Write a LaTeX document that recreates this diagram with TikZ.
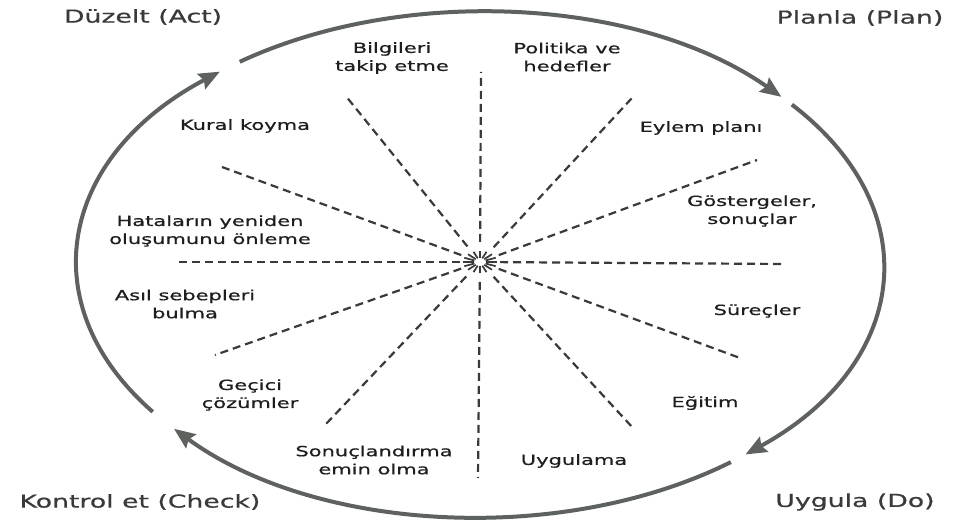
\documentclass[tikz,border=0pt]{standalone}
\usepackage{fontspec}
\setmainfont{DejaVu Sans}[FakeStretch=1.5,FakeBold=0.6]
\usetikzlibrary{arrows.meta,calc}
\definecolor{arcgray}{HTML}{5E625F}
\definecolor{dashgray}{HTML}{3A3A3A}
\definecolor{txt}{HTML}{1E1E1E}
\definecolor{otxt}{HTML}{3A3A3A}
\begin{document}
\begin{tikzpicture}[x=1pt,y=1pt,
  cyc/.style={line width=4pt,arcgray,-{Stealth[length=21pt,width=17pt,inset=3pt]}},
  spoke/.style={line width=2.2pt,dashgray,dash pattern=on 8pt off 5pt,shorten <=20pt},
  tick/.style={line width=1.7pt,dashgray},
  outer/.style={text=otxt,font=\fontsize{17.8}{20}\selectfont,inner sep=0pt},
  inner/.style={text=txt,font=\fontsize{14}{18}\selectfont,align=center,inner sep=0pt}]
\useasboundingbox (0,0) rectangle (955,524);
\fill[white] (0,0) rectangle (955,524);
% ellipse centre
\coordinate (e) at (480,259.5);
% cycle arcs
\draw[cyc] (e) ++(126.6:403pt and 252.5pt) arc[start angle=126.6,end angle=41.6,x radius=403pt,y radius=252.5pt];
\draw[cyc] (e) ++(39.3:403pt and 252.5pt) arc[start angle=39.3,end angle=-48.8,x radius=403pt,y radius=252.5pt];
\draw[cyc] (e) ++(-51.5:403pt and 252.5pt) arc[start angle=-51.5,end angle=-139.4,x radius=403pt,y radius=252.5pt];
\draw[cyc] (e) ++(-144.3:403pt and 252.5pt) arc[start angle=-144.3,end angle=-229.8,x radius=403pt,y radius=252.5pt];
% spokes
\coordinate (c) at (480,262);
\coordinate (s1) at (481,452);
\coordinate (s2) at (632,426);
\coordinate (s3) at (757,364);
\coordinate (s4) at (783,260);
\coordinate (s5) at (740,166);
\coordinate (s6) at (633,96);
\coordinate (s7) at (478,46);
\coordinate (s8) at (325,99);
\coordinate (s9) at (215,169);
\coordinate (s10) at (178,262);
\coordinate (s11) at (222,357);
\coordinate (s12) at (345,429);
\foreach \s in {s1,s2,s3,s4,s5,s6,s7,s8,s9,s10,s11,s12}
  \draw[spoke] (c) -- (\s);
% centre burst
\foreach \a in {0,22.5,...,337.5}
  \draw[tick] ($(c)+(\a:6pt and 4pt)$) -- ($(c)+(\a:17pt and 11pt)$);
% stage labels
\node[outer] (act) at (143,507) {Düzelt (Act)};
\node[outer] (plan) at (860,506) {Planla (Plan)};
\node[outer] (check) at (140,22) {Kontrol et (Check)};
\node[outer] (do) at (855,22) {Uygula (Do)};
% inner labels
\node[inner] (l1) at (392,466) {Bilgileri\\takip etme};
\node[inner] (l2) at (567,467) {Politika ve\\hedefler};
\node[inner] (l3) at (701,396) {Eylem planı};
\node[inner] (l4) at (752,313) {Göstergeler,\\sonuçlar};
\node[inner] (l5) at (757,213) {Süreçler};
\node[inner] (l6) at (705,121) {Eğitim};
\node[inner] (l7) at (574,63) {Uygulama};
\node[inner] (l8) at (374,64) {Sonuçlandırma\\emin olma};
\node[inner] (l9) at (250,129) {Geçici\\çözümler};
\node[inner] (l10) at (185,220) {Asıl sebepleri\\bulma};
\node[inner] (l11) at (210,293) {Hataların yeniden\\oluşumunu önleme};
\node[inner] (l12) at (245,398) {Kural koyma};
\end{tikzpicture}
\end{document}
